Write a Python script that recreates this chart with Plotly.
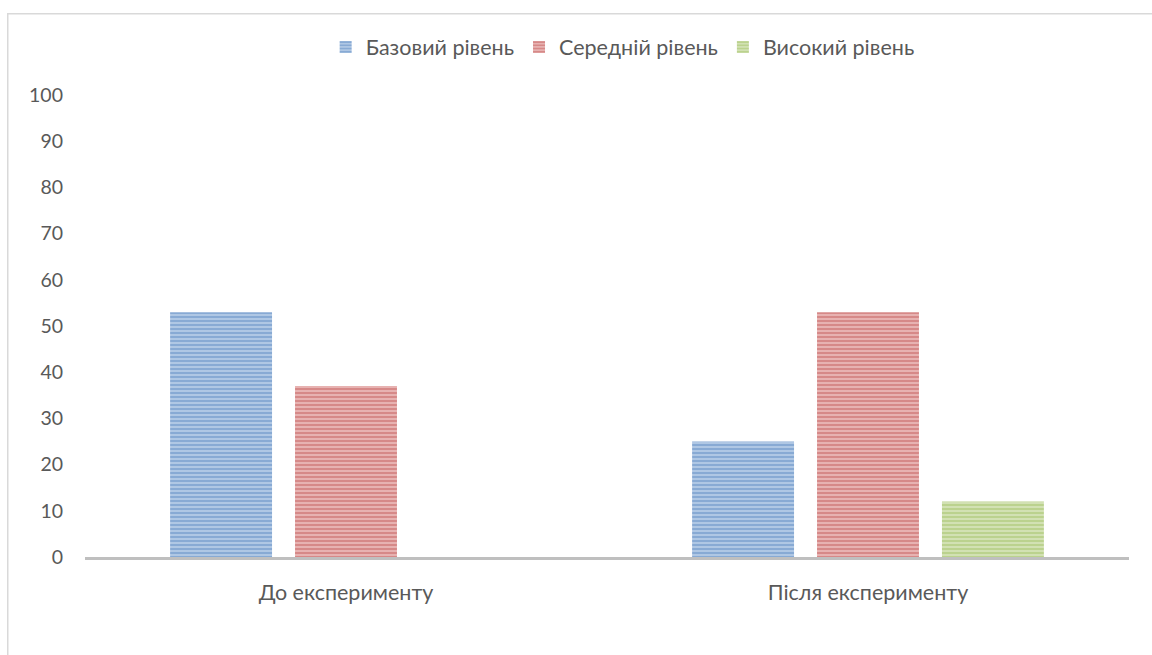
import plotly.graph_objects as go

# Chart data
categories = ["До експерименту", "Після експерименту"]
series_names = ["Базовий рівень", "Середній рівень", "Високий рівень"]
basic_level = [53, 25]
medium_level = [37, 53]
high_level = [None, 12]
y_ticks = list(range(0, 101, 10))

dark_colors = ["#4F81BD", "#C0504D", "#9BBB59"]
light_colors = ["#C0D2EA", "#EDC3C2", "#DAE8C2"]

FONT = "Lato"
TEXT_COLOR = "#595959"

fig = go.Figure()
for name, values, dark, light in zip(series_names,
                                     [basic_level, medium_level, high_level],
                                     dark_colors, light_colors):
    fig.add_trace(go.Bar(
        name=name,
        x=categories,
        y=values,
        marker=dict(
            color=light,
            line=dict(width=0),
            pattern=dict(shape="-", fgcolor=dark, bgcolor=light,
                         size=4, solidity=0.65),
        ),
    ))

# Outer chart-area border
fig.add_shape(type="rect", xref="paper", yref="paper",
              x0=-0.074, x1=1.2, y0=-0.5, y1=1.176,
              line=dict(color="#D9D9D9", width=1.5), fillcolor="rgba(0,0,0,0)",
              layer="below")

fig.update_layout(
    width=1152, height=655,
    margin=dict(l=85, r=23, t=95, b=98),
    paper_bgcolor="white", plot_bgcolor="white",
    barmode="group", bargap=0.282, bargroupgap=0.184,
    font=dict(family=FONT, size=21, color=TEXT_COLOR),
    showlegend=True,
    legend=dict(orientation="h", x=0.515, xanchor="center", y=1.104, yanchor="middle",
                font=dict(family=FONT, size=21.5, color=TEXT_COLOR),
                itemwidth=30, traceorder="normal"),
    xaxis=dict(showline=True, linecolor="#BFBFBF", linewidth=3, ticks="",
               showgrid=False, zeroline=False, ticklabelstandoff=14,
               tickfont=dict(size=21.5)),
    yaxis=dict(range=[0, 100], tickvals=y_ticks, showgrid=False, zeroline=False,
               showline=False, ticks="", ticklabelstandoff=21,
               tickfont=dict(size=19.5)),
)

fig.write_html("out.html")
